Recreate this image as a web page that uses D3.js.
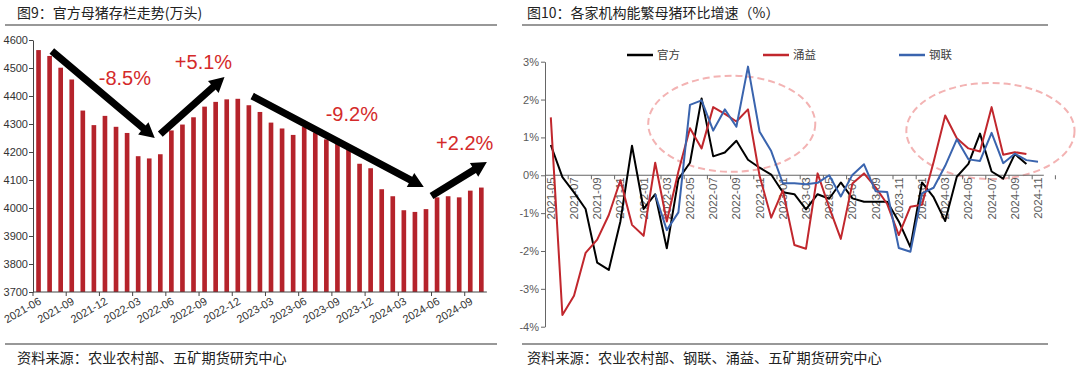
<!DOCTYPE html>
<html>
<head>
<meta charset="utf-8">
<script src="https://cdn.jsdelivr.net/npm/d3@7"></script>
<style>
	body { margin: 0; background: #fff; }
	svg { display: block; }
	text { font-family: "Liberation Sans", Arial, sans-serif; }
	.cjk { font-family: "Noto Sans CJK SC", sans-serif; }
</style>
</head>
<body>
<svg id="chart" width="1080" height="369"></svg>
<script>
// ---- left chart: official sow inventory (10k head)
var sowMonths = ['2021-06','2021-07','2021-08','2021-09','2021-10','2021-11','2021-12',
	'2022-01','2022-02','2022-03','2022-04','2022-05','2022-06','2022-07','2022-08','2022-09','2022-10','2022-11','2022-12',
	'2023-01','2023-02','2023-03','2023-04','2023-05','2023-06','2023-07','2023-08','2023-09','2023-10','2023-11','2023-12',
	'2024-01','2024-02','2024-03','2024-04','2024-05','2024-06','2024-07','2024-08','2024-09','2024-10'];
var sowStock = [4564, 4543, 4501, 4459, 4348, 4296, 4329, 4290, 4268, 4185, 4177, 4192,
	4277, 4298, 4324, 4362, 4379, 4388, 4390, 4367, 4343, 4305, 4284, 4261, 4290, 4270,
	4245, 4231, 4210, 4158, 4142, 4067, 4042, 3992, 3986, 3996, 4038, 4042, 4038, 4062, 4073];
var sowTicks = [3700, 3800, 3900, 4000, 4100, 4200, 4300, 4400, 4500, 4600];
var sowTickLabels = ['2021-06','2021-09','2021-12','2022-03','2022-06','2022-09','2022-12',
	'2023-03','2023-06','2023-09','2023-12','2024-03','2024-06','2024-09'];

// trend arrows: [start index, start value, end index, end value], and their labels
var trendArrows = [
	[1.2, 4561, 10.5, 4250],
	[11.0, 4264, 16.8, 4468],
	[19.3, 4400, 34.8, 4075],
	[35.5, 4043, 40.5, 4164]
];
var trendLabels = ['-8.5%', '+5.1%', '-9.2%', '+2.2%'];
var trendLabelPos = [[7.8, 4440], [14.9, 4495], [28.3, 4310], [38.5, 4206]];

// ---- right chart: month-on-month change of breeding sows (%)
var momMonths = ['2021-05','2021-06','2021-07','2021-08','2021-09','2021-10','2021-11','2021-12',
	'2022-01','2022-02','2022-03','2022-04','2022-05','2022-06','2022-07','2022-08','2022-09','2022-10','2022-11','2022-12',
	'2023-01','2023-02','2023-03','2023-04','2023-05','2023-06','2023-07','2023-08','2023-09','2023-10','2023-11','2023-12',
	'2024-01','2024-02','2024-03','2024-04','2024-05','2024-06','2024-07','2024-08','2024-09','2024-10','2024-11'];
var official = [0.80, -0.05, -0.45, -0.89, -2.31, -2.50, -1.22, 0.78, -0.89, -0.50, -1.93, -0.10,
	0.33, 2.03, 0.50, 0.60, 0.91, 0.41, 0.20, 0.02, -0.45, -0.50, -0.90, -0.50, -0.62, -0.19,
	-0.61, -0.70, -0.70, -0.70, -1.22, -1.90, -0.19, -0.58, -1.21, -0.04, 0.30, 1.10, 0.10,
	-0.09, 0.56, 0.30, null];
var yongyi = [1.53, -3.69, -3.18, -2.05, -1.70, -1.05, -0.13, -1.31, -1.60, 0.33, -1.22, 0.10,
	1.24, 0.71, 1.80, 1.62, 1.42, 1.74, -0.02, -1.12, -0.40, -1.84, -1.94, 0.05, -0.85, -1.68,
	-0.22, 0.05, -0.32, -0.76, -1.58, -0.83, -0.78, 0.35, 1.58, 0.98, 0.71, 0.63, 1.80, 0.54,
	0.61, 0.56, null];
var ganglian = [null, null, null, null, null, null, null, null, null, -0.50, -1.45, -0.98,
	1.86, 1.98, 1.18, 1.74, 1.28, 2.87, 1.15, 0.64, -0.21, -0.21, -0.24, -0.20, 0.00, -0.56,
	0.01, 0.29, -0.42, -0.44, -1.92, -2.02, -0.48, -0.33, 0.25, 0.95, 0.42, 0.38, 1.12, 0.32,
	0.57, 0.40, 0.36];
var momNames = ['官方', '涌益', '钢联'];
var momColors = ['#000000', '#c1272d', '#3a64ae'];
var momTicks = [-4, -3, -2, -1, 0, 1, 2, 3];
// highlighted periods: [center index, center value, half width in months, half height in %]
var highlightAreas = [[15.6, 1.36, 7.2, 1.27], [37.9, 1.17, 7.25, 1.27]];

var svg = d3.select('#chart');

function frame(x0, x1, tx, title, source) {
	svg.append('text').attr('class', 'cjk')
		.attr('x', tx).attr('y', 18)
		.attr('font-size', 14).attr('fill', '#222')
		.text(title);
	svg.append('line')
		.attr('x1', x0).attr('x2', x1).attr('y1', 25).attr('y2', 25)
		.attr('stroke', '#333').attr('stroke-width', 1.2);
	svg.append('line')
		.attr('x1', x0).attr('x2', x1).attr('y1', 344).attr('y2', 344)
		.attr('stroke', '#333').attr('stroke-width', 1.2);
	svg.append('text').attr('class', 'cjk')
		.attr('x', tx).attr('y', 363)
		.attr('font-size', 14.2).attr('fill', '#222')
		.text(source);
}

frame(5, 497, 17, '图9：官方母猪存栏走势(万头)', '资料来源：农业农村部、五矿期货研究中心');
frame(522, 1048, 527, '图10：各家机构能繁母猪环比增速（%）', '资料来源：农业农村部、钢联、涌益、五矿期货研究中心');

// ================= left chart =================
(function () {
	var x = d3.scaleBand().domain(sowMonths).range([33, 33 + sowMonths.length * 11.07]);
	var y = d3.scaleLinear().domain([3700, 4600]).range([292, 40]);
	var step = x.step();
	var xi = function (i) { return x.range()[0] + (i + 0.5) * step; };
	var barW = step * 0.42;

	var g = svg.append('g');

	g.selectAll('rect.bar')
		.data(sowStock)
		.enter().append('rect')
		.attr('class', 'bar')
		.attr('x', function (d, i) { return x(sowMonths[i]) + (step - barW) / 2; })
		.attr('width', barW)
		.attr('y', function (d) { return y(d); })
		.attr('height', function (d) { return y(3700) - y(d); })
		.attr('fill', '#b5232b');

	var yAxis = g.append('g')
		.attr('transform', 'translate(33,0)')
		.call(d3.axisLeft(y).tickValues(sowTicks).tickSize(4).tickSizeOuter(0).tickFormat(d3.format('d')));
	yAxis.select('.domain').attr('stroke', '#444');
	yAxis.selectAll('.tick line').attr('stroke', '#444');
	yAxis.selectAll('.tick text').attr('font-size', 11).attr('fill', '#333')
		.attr('font-family', '"Liberation Sans", Arial, sans-serif').attr('x', -5);

	// x axis: ticks at band starts every 3 months
	var xa = g.append('g');
	xa.append('line')
		.attr('x1', 33).attr('x2', x.range()[1]).attr('y1', 292).attr('y2', 292)
		.attr('stroke', '#444');
	xa.selectAll('line.tk')
		.data(sowTickLabels)
		.enter().append('line')
		.attr('class', 'tk')
		.attr('x1', function (m) { return x(m); })
		.attr('x2', function (m) { return x(m); })
		.attr('y1', 292).attr('y2', 296)
		.attr('stroke', '#444');
	xa.selectAll('text')
		.data(sowTickLabels)
		.enter().append('text')
		.attr('transform', function (m) { return 'translate(' + (x(m) + 7) + ',300) rotate(-30)'; })
		.attr('text-anchor', 'end')
		.attr('dy', '0.35em')
		.attr('font-size', 11)
		.attr('fill', '#333')
		.text(function (m) { return m; });

	// trend arrows
	trendArrows.forEach(function (a) {
		var x1 = xi(a[0]), y1 = y(a[1]), x2 = xi(a[2]), y2 = y(a[3]);
		var ang = Math.atan2(y2 - y1, x2 - x1);
		var head = 15, hw = 8, sw = 3.6;
		var bx = x2 - head * Math.cos(ang), by = y2 - head * Math.sin(ang);
		var px = -Math.sin(ang), py = Math.cos(ang);
		var pts = [
			[x1 + px * sw, y1 + py * sw],
			[bx + px * sw, by + py * sw],
			[bx + px * hw, by + py * hw],
			[x2, y2],
			[bx - px * hw, by - py * hw],
			[bx - px * sw, by - py * sw],
			[x1 - px * sw, y1 - py * sw]
		];
		g.append('polygon')
			.attr('points', pts.map(function (p) { return p.join(','); }).join(' '))
			.attr('fill', '#000');
	});

	g.selectAll('text.trend')
		.data(trendLabels)
		.enter().append('text')
		.attr('class', 'trend')
		.attr('x', function (d, i) { return xi(trendLabelPos[i][0]); })
		.attr('y', function (d, i) { return y(trendLabelPos[i][1]); })
		.attr('text-anchor', 'middle')
		.attr('font-size', 20)
		.attr('fill', '#d42a2a')
		.text(function (d) { return d; });
})();

// ================= right chart =================
(function () {
	var x = d3.scaleBand().domain(momMonths).range([545, 545 + momMonths.length * 11.6]);
	var y = d3.scaleLinear().domain([-4, 3]).range([326.7, 61.7]);
	var cx = function (i) { return x(momMonths[i]) + x.bandwidth() / 2; };

	var g = svg.append('g');

	// highlight ellipses
	g.selectAll('ellipse')
		.data(highlightAreas)
		.enter().append('ellipse')
		.attr('cx', function (d) { return cx(0) + d[0] * x.step(); })
		.attr('cy', function (d) { return y(d[1]); })
		.attr('rx', function (d) { return d[2] * x.step(); })
		.attr('ry', function (d) { return y(0) - y(d[3]); })
		.attr('fill', 'none')
		.attr('stroke', '#f3b3b3')
		.attr('stroke-width', 2)
		.attr('stroke-dasharray', '7,4');

	var yAxis = g.append('g')
		.attr('transform', 'translate(545,0)')
		.call(d3.axisLeft(y).tickValues(momTicks).tickSize(4).tickSizeOuter(0)
			.tickFormat(function (d) { return d + '%'; }));
	yAxis.select('.domain').attr('stroke', '#666');
	yAxis.selectAll('.tick line').attr('stroke', '#666');
	yAxis.selectAll('.tick text').attr('font-size', 11).attr('fill', '#595959')
		.attr('font-family', '"Liberation Sans", Arial, sans-serif').attr('x', -6);

	// x axis at zero
	var xa = g.append('g');
	xa.append('line')
		.attr('x1', 545).attr('x2', x.range()[1]).attr('y1', y(0)).attr('y2', y(0))
		.attr('stroke', '#666').attr('stroke-width', 1.2);
	var tickMonths = momMonths.filter(function (m, i) { return i % 2 === 0; });
	xa.selectAll('line.tk')
		.data(tickMonths)
		.enter().append('line')
		.attr('class', 'tk')
		.attr('x1', function (m) { return x(m) + x.step() * 2; })
		.attr('x2', function (m) { return x(m) + x.step() * 2; })
		.attr('y1', y(0)).attr('y2', y(0) + 4)
		.attr('stroke', '#666');
	xa.selectAll('text')
		.data(tickMonths)
		.enter().append('text')
		.attr('transform', function (m) { return 'translate(' + (x(m) + x.bandwidth() / 2) + ',' + (y(0) + 2) + ') rotate(-90)'; })
		.attr('text-anchor', 'end')
		.attr('dy', '0.35em')
		.attr('font-size', 11.5)
		.attr('fill', '#595959')
		.text(function (m) { return m; });

	var line = d3.line()
		.defined(function (d) { return d != null; })
		.x(function (d, i) { return cx(i); })
		.y(function (d) { return y(d); });

	[official, yongyi, ganglian].forEach(function (s, k) {
		g.append('path')
			.datum(s)
			.attr('d', line)
			.attr('fill', 'none')
			.attr('stroke', momColors[k])
			.attr('stroke-width', 2)
			.attr('stroke-linejoin', 'round');
	});

	// legend
	var legendX = [627, 763, 899];
	var lg = g.selectAll('g.legend')
		.data(momNames)
		.enter().append('g')
		.attr('class', 'legend')
		.attr('transform', function (d, i) { return 'translate(' + legendX[i] + ',55)'; });
	lg.append('line')
		.attr('x1', 0).attr('x2', 26)
		.attr('stroke', function (d, i) { return momColors[i]; })
		.attr('stroke-width', 2.5);
	lg.append('text')
		.attr('class', 'cjk')
		.attr('x', 30).attr('dy', '0.35em')
		.attr('font-size', 11.5).attr('fill', '#404040')
		.text(function (d) { return d; });
})();
</script>
</body>
</html>
